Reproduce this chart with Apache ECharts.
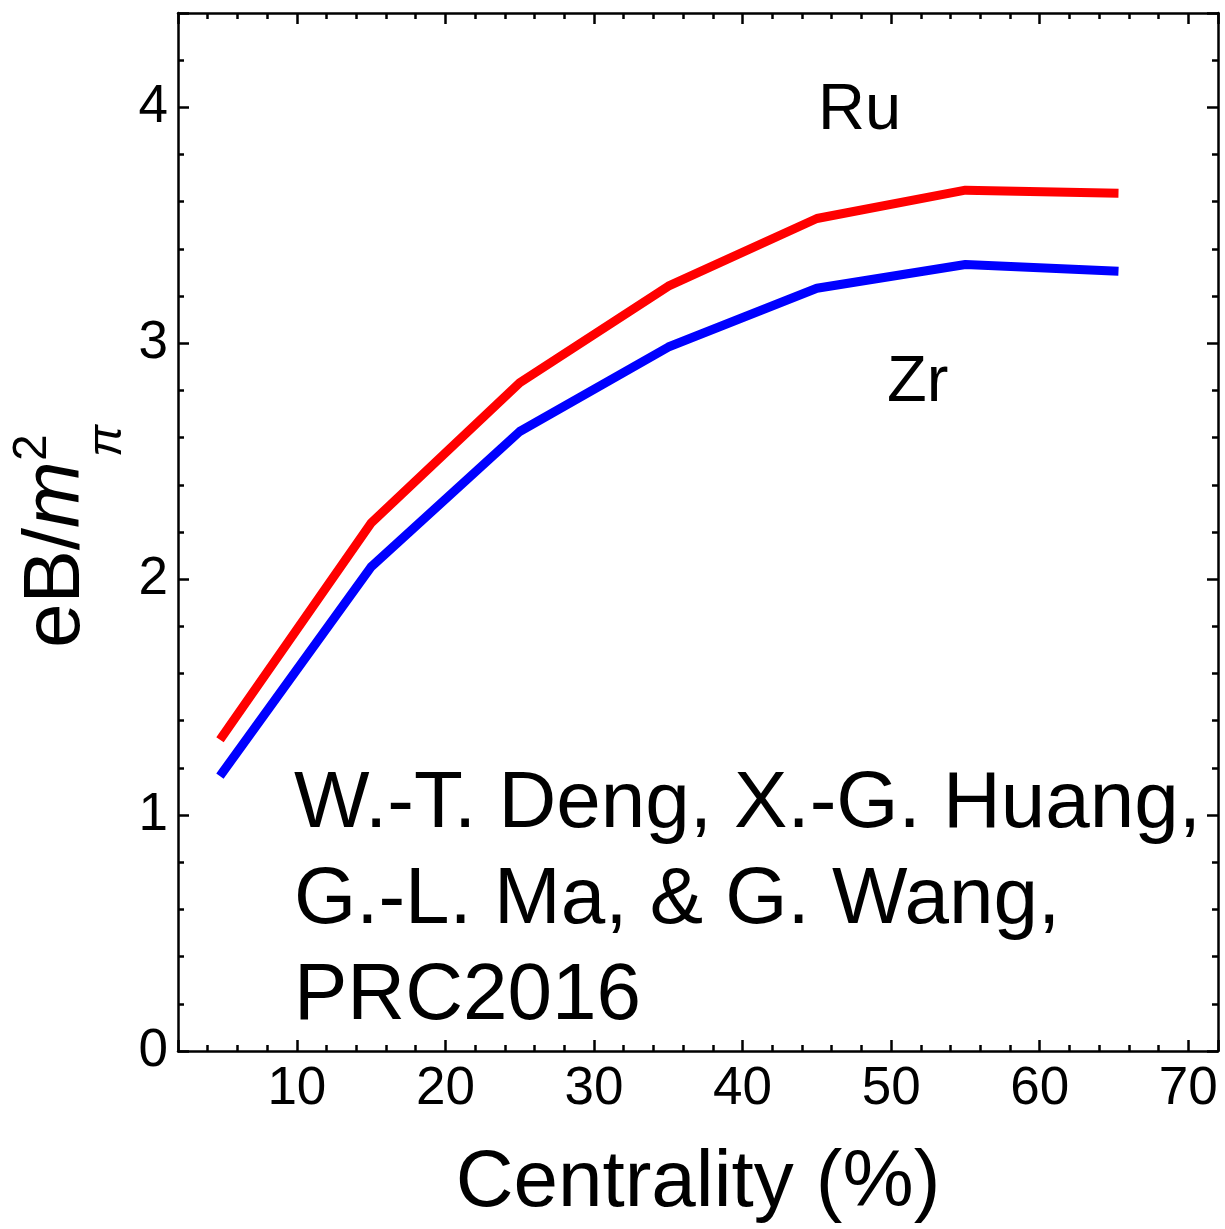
<!DOCTYPE html>
<html>

<head>
  <meta charset="utf-8">
  <title>eB vs centrality</title>
  <script src="https://cdn.jsdelivr.net/npm/echarts@6/dist/echarts.min.js"></script>
  <style>
    html, body { margin: 0; padding: 0; background: #fff; }
    #chart { width: 1225px; height: 1229px; }
  </style>
</head>

<body>
  <div id="chart"></div>
</body>

<script>
  // centrality bins (%)
  const centrality = [5, 15, 25, 35, 45, 55, 65];
  // eB / m_pi^2
  const ruValues = [1.335, 2.238, 2.833, 3.242, 3.529, 3.649, 3.636];
  const zrValues = [1.181, 2.052, 2.626, 2.984, 3.233, 3.334, 3.306];
  const citationLines = ['W.-T. Deng, X.-G. Huang,', 'G.-L. Ma, & G. Wang,', 'PRC2016'];

  const FONT = '"Liberation Sans", Arial, Helvetica, sans-serif';

  function pairs(xs, ys) {
    return xs.map(function (x, i) { return [x, ys[i]]; });
  }

  const chart = echarts.init(document.getElementById('chart'), null, { renderer: 'canvas' });

  const lineW = 2.5;
  const frameAxis = function (pos, extra) {
    return Object.assign({
      type: 'value',
      position: pos,
      axisLine: { show: true, onZero: false, lineStyle: { color: '#000', width: lineW } },
      axisTick: { show: true, inside: true, length: 11, lineStyle: { color: '#000', width: lineW } },
      minorTick: { show: true, splitNumber: 5, length: 6, lineStyle: { color: '#000', width: lineW } },
      splitLine: { show: false },
      minorSplitLine: { show: false }
    }, extra);
  };

  chart.setOption({
    animation: false,
    backgroundColor: '#fff',
    grid: { left: 178, right: 7, top: 13, bottom: 177, containLabel: false },
    xAxis: [
      frameAxis('bottom', {
        min: 2, max: 72,
        name: 'Centrality (%)',
        nameLocation: 'middle',
        nameGap: 93,
        nameTextStyle: { fontFamily: FONT, fontSize: 80, color: '#000' },
        axisLabel: {
          showMinLabel: false, showMaxLabel: false,
          margin: 12, fontFamily: FONT, fontSize: 53, color: '#000'
        }
      }),
      frameAxis('top', { min: 2, max: 72, axisLabel: { show: false } })
    ],
    yAxis: [
      frameAxis('left', {
        min: 0, max: 4.4, interval: 1,
        axisLabel: {
          showMaxLabel: false,
          margin: 10, fontFamily: FONT, fontSize: 53, color: '#000'
        }
      }),
      frameAxis('right', { min: 0, max: 4.4, interval: 1, axisLabel: { show: false } })
    ],
    series: [
      {
        name: 'Zr', type: 'line', data: pairs(centrality, zrValues),
        showSymbol: false, symbol: 'none',
        lineStyle: { color: '#0000ff', width: 9, cap: 'square', join: 'round' }
      },
      {
        name: 'Ru', type: 'line', data: pairs(centrality, ruValues),
        showSymbol: false, symbol: 'none',
        lineStyle: { color: '#ff0000', width: 9, cap: 'square', join: 'round' }
      }
    ],
    graphic: [
      {
        type: 'text', left: 818, top: 79,
        style: { text: 'Ru', fontFamily: FONT, fontSize: 65, lineHeight: 65, fill: '#000' }
      },
      {
        type: 'text', left: 887, top: 351,
        style: { text: 'Zr', fontFamily: FONT, fontSize: 65, lineHeight: 65, fill: '#000' }
      },
      {
        type: 'text', left: 294, top: 757,
        style: { text: citationLines.join('\n'), fontFamily: FONT, fontSize: 80, lineHeight: 96, fill: '#000' }
      },
      {
        // y axis title eB/m_pi^2, rotated
        type: 'group', x: 97, y: 648, rotation: Math.PI / 2,
        children: [
          {
            type: 'text', x: 0, y: 0,
            style: {
              text: '{a|eB/}{b|m}', verticalAlign: 'bottom', fill: '#000',
              rich: {
                a: { fontFamily: FONT, fontSize: 80, lineHeight: 80 },
                b: { fontFamily: FONT, fontSize: 80, lineHeight: 80, fontStyle: 'italic' }
              }
            }
          },
          {
            type: 'text', x: 187, y: -40,
            style: { text: '2', verticalAlign: 'bottom', fontFamily: FONT, fontSize: 48, lineHeight: 48, fill: '#000' }
          },
          {
            type: 'text', x: 191, y: 35,
            style: { text: 'π', verticalAlign: 'bottom', fontFamily: FONT, fontSize: 48, lineHeight: 48, fontStyle: 'italic', fill: '#000' }
          }
        ]
      }
    ]
  });
</script>

</html>
